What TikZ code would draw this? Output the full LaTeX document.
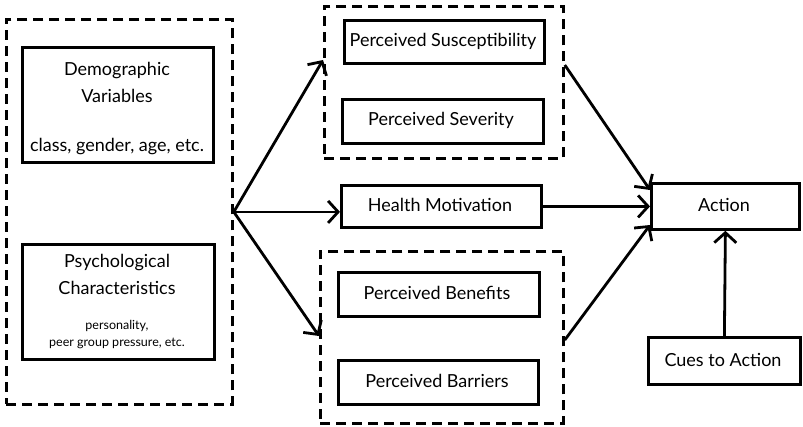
\documentclass[tikz,border=0pt]{standalone}
\usepackage{fontspec}
\setmainfont{Lato}
\usetikzlibrary{arrows.meta,calc}
\begin{document}
\begin{tikzpicture}[x=1pt,y=-1pt,
  box/.style={draw,line width=2.8pt,inner sep=0pt,anchor=north west},
  grp/.style={draw,line width=2.8pt,dash pattern=on 10pt off 6pt,inner sep=0pt,anchor=north west},
  lbl/.style={font=\fontsize{18}{20}\selectfont,inner sep=0pt},
  small/.style={font=\fontsize{12.5}{17}\selectfont,inner sep=0pt,align=center},
  arr/.style={line width=2.8pt,-{Straight Barb[length=10pt,width=22pt,line width=2.8pt]}}]
\useasboundingbox (0,0) rectangle (803,426);
% groups
\node[grp,minimum width=226pt,minimum height=385pt] (left) at (5,18) {};
\node[grp,minimum width=239pt,minimum height=152pt] (top) at (323,5) {};
\node[grp,minimum width=243pt,minimum height=172pt] (bot) at (319,250) {};
% left boxes
\node[box,minimum width=191pt,minimum height=115pt] (demo) at (21,46) {};
\node[box,minimum width=192pt,minimum height=115pt] (psych) at (21,243) {};
\node[lbl] (demo1) at (117,71) {Demographic};
\node[lbl] (demo2) at (117,96) {Variables};
\node[lbl] (demo3) at (117,147) {class, gender, age, etc.};
\node[lbl] (psych1) at (117,263) {Psychological};
\node[lbl] (psych2) at (117,288) {Characteristics};
\node[small] (psych3) at (117,335) {personality,\\peer group pressure, etc.};
% middle boxes
\node[box,minimum width=200pt,minimum height=43pt] (sus) at (343,19) {};
\node[lbl] (sust) at (443,41) {Perceived Susceptibility};
\node[box,minimum width=201pt,minimum height=44pt] (sev) at (341,98) {};
\node[lbl] (sevt) at (441,120) {Perceived Severity};
\node[box,minimum width=200pt,minimum height=42pt] (hm) at (340,184) {};
\node[lbl] (hmt) at (440,205) {Health Motivation};
\node[box,minimum width=201pt,minimum height=44pt] (ben) at (337,271) {};
\node[lbl] (bent) at (437,293) {Perceived Benefits};
\node[box,minimum width=200pt,minimum height=44pt] (bar) at (337,359) {};
\node[lbl] (bart) at (437,381) {Perceived Barriers};
% right boxes
\node[box,minimum width=148pt,minimum height=46pt] (act) at (650,182) {};
\node[lbl] (actt) at (724,205) {Action};
\node[box,minimum width=152pt,minimum height=47pt] (cue) at (647,336) {};
\node[lbl] (cuet) at (723,360) {Cues to Action};
% helper coordinates
\coordinate (c60) at (0,60);
\coordinate (c336) at (0,336);
\coordinate (c65) at (0,65);
\coordinate (c340) at (0,340);
\coordinate (c190) at (0,190);
\coordinate (c225) at (0,225);
% arrows
\draw[arr] (left.east) -- (top.west |- c60);
\draw[arr] (left.east) -- (hm.west |- left.east);
\draw[arr] (left.east) -- (bot.west |- c336);
\draw[arr] (top.east |- c65) -- (act.west |- c190);
\draw[arr] (hm.east) -- (act.west);
\draw[arr] (bot.east |- c340) -- (act.west |- c225);
\draw[arr] (cue.north) -- (act.south);
\end{tikzpicture}
\end{document}
